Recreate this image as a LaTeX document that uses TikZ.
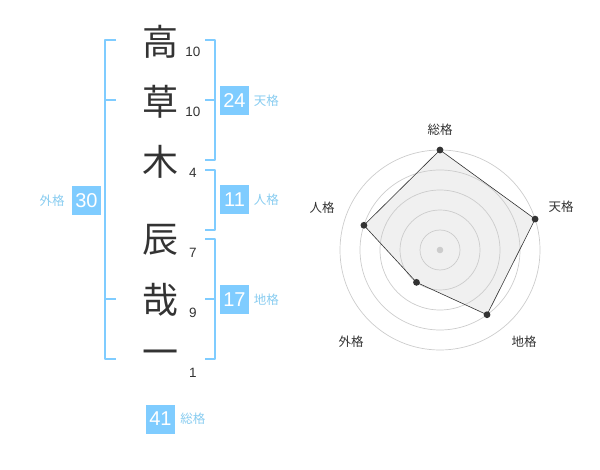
\documentclass[tikz,border=0pt]{standalone}
\usepackage{fontspec}
\setmainfont{Liberation Sans}
\newfontfamily\jp{Noto Sans CJK JP}
\usetikzlibrary{positioning}
\definecolor{kakublue}{RGB}{127,204,255}
\definecolor{kakutext}{RGB}{136,204,240}
\definecolor{inkgray}{RGB}{51,51,51}
\begin{document}
\begin{tikzpicture}[x=1pt,y=-1pt,line join=round,
  kanji/.style={font=\jp\fontsize{36}{36}\selectfont,text=inkgray},
  strokes/.style={font=\fontsize{13.5}{13.5}\selectfont,text=inkgray},
  bracket/.style={draw=kakublue,line width=2pt},
  kakubox/.style={fill=kakublue,text=white,minimum size=29pt,inner sep=0pt,font=\fontsize{20}{20}\selectfont},
  kakuname/.style={text=kakutext,inner sep=0pt,font=\jp\fontsize{12.5}{12.5}\selectfont},
  axisname/.style={text=inkgray,font=\jp\fontsize{12.5}{12.5}\selectfont},
  ring/.style={draw=gray!40,line width=0.7pt}]
 \useasboundingbox (0,0) rectangle (600,470);
 % name and stroke counts
 \foreach \c/\y/\n/\ny/\k in {高/42/10/52/1,草/102/10/112/2,木/162/4/173/3,辰/240/7/253/4,哉/300/9/313/5,一/358/1/373/6}{
   \node[kanji] (c\k) at (160,\y) {\c};
   \node[strokes] (s\k) at (193,\ny) {\n};
 }
 % brackets
 \draw[bracket] (116,40) -- (105,40) -- (105,359) -- (116,359);
 \draw[bracket] (105,100) -- (116,100) (105,299) -- (116,299);
 \draw[bracket] (205,40) -- (215,40) -- (215,160) -- (205,160) (205,100) -- (215,100);
 \draw[bracket] (205,170) -- (215,170) -- (215,230) -- (205,230);
 \draw[bracket] (205,239) -- (215,239) -- (215,359) -- (205,359) (205,299) -- (215,299);
 % kaku
 \node[kakubox] (ten) at (234.5,100.5) {24};
 \node[kakuname,right=4.5pt of ten] (tenname) {天格};
 \node[kakubox] (jin) at (234.5,200) {11};
 \node[kakuname,right=4.5pt of jin] (jinname) {人格};
 \node[kakubox] (chi) at (234.5,300) {17};
 \node[kakuname,right=4.5pt of chi] (chiname) {地格};
 \node[kakubox] (gai) at (86.5,200.5) {30};
 \node[kakuname,left=7pt of gai] (gainame) {外格};
 \node[kakubox] (sou) at (160.5,419) {41};
 \node[kakuname,right=5pt of sou] (souname) {総格};
 % radar
 \begin{scope}[shift={(440,250)},y=1pt]
  \coordinate (rsou) at (90:100);
  \coordinate (rten) at (18:100);
  \coordinate (rchi) at (-54:80);
  \coordinate (rgai) at (-126:40);
  \coordinate (rjin) at (162:80);
  \fill[gray!12] (rsou) -- (rten) -- (rchi) -- (rgai) -- (rjin) -- cycle;
  \foreach \r in {20,40,...,100} \draw[ring] (0,0) circle (\r pt);
  \fill[gray!40] (0,0) circle (3.3pt);
  \draw[inkgray,line width=0.6pt] (rsou) -- (rten) -- (rchi) -- (rgai) -- (rjin) -- cycle;
  \foreach \p in {rsou,rten,rchi,rgai,rjin} \fill[inkgray] (\p) circle (3.4pt);
  \node[axisname] (asou) at (0,120) {総格};
  \node[axisname] (aten) at (121,43) {天格};
  \node[axisname] (ajin) at (-118,42) {人格};
  \node[axisname] (agai) at (-89,-92) {外格};
  \node[axisname] (achi) at (84,-92) {地格};
 \end{scope}
\end{tikzpicture}
\end{document}
